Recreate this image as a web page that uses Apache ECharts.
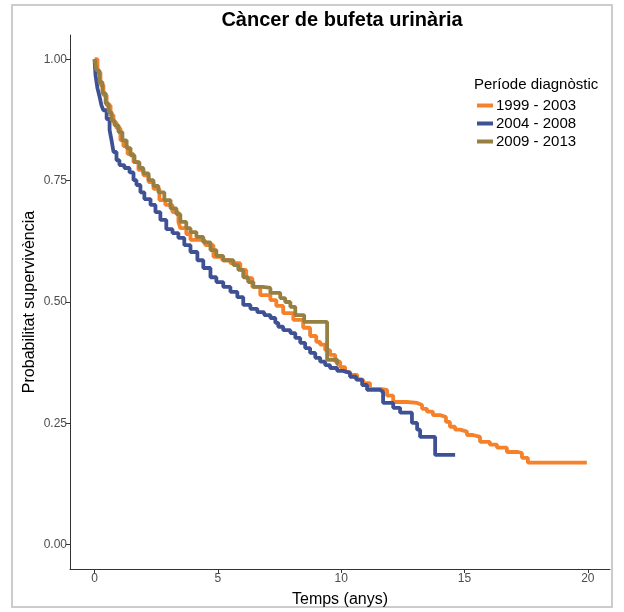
<!DOCTYPE html>
<html>
<head>
<meta charset="utf-8">
<script src="https://cdn.jsdelivr.net/npm/echarts@6/dist/echarts.min.js"></script>
<style>
  html, body { margin: 0; padding: 0; background: #fff; }
  #chart { width: 624px; height: 612px; }
</style>
</head>
<body>
<div id="chart"></div>
<script>
// Kaplan-Meier survival by diagnosis period: [years, survival probability]
const periods = ['1999 - 2003', '2004 - 2008', '2009 - 2013'];
const periodColors = ['#F5822B', '#3F5195', '#967F42'];

const surv1999 = [
  [0, 1.0], [0.12, 0.973], [0.24, 0.947], [0.36, 0.926], [0.49, 0.905], [0.65, 0.885],
  [0.77, 0.870], [0.89, 0.858], [1.05, 0.833], [1.17, 0.821], [1.34, 0.805], [1.58, 0.788],
  [1.78, 0.772], [1.98, 0.761], [2.19, 0.747], [2.39, 0.733], [2.63, 0.710], [2.87, 0.700],
  [3.16, 0.685], [3.40, 0.665], [3.48, 0.652], [3.72, 0.640], [3.89, 0.628], [4.29, 0.626],
  [4.49, 0.617], [4.82, 0.593], [5.18, 0.586], [5.51, 0.580], [5.91, 0.566], [6.15, 0.549],
  [6.40, 0.531], [6.72, 0.514], [7.13, 0.504], [7.37, 0.492], [7.65, 0.477], [8.06, 0.463],
  [8.46, 0.447], [8.74, 0.430], [8.99, 0.418], [9.15, 0.412], [9.35, 0.401], [9.55, 0.391],
  [9.76, 0.377], [9.96, 0.366], [10.16, 0.356], [10.36, 0.350], [10.65, 0.340], [10.89, 0.333],
  [11.17, 0.321], [11.58, 0.319], [11.86, 0.307], [12.11, 0.294], [12.67, 0.292], [13.08, 0.288],
  [13.28, 0.280], [13.48, 0.274], [13.72, 0.267], [14.01, 0.263], [14.25, 0.253], [14.41, 0.243],
  [14.62, 0.237], [14.82, 0.233], [15.10, 0.226], [15.34, 0.222], [15.63, 0.212], [16.03, 0.206],
  [16.32, 0.200], [16.72, 0.191], [17.17, 0.189], [17.33, 0.179], [17.57, 0.169], [19.96, 0.169]
];

const surv2004 = [
  [0, 1.0], [0.04, 0.967], [0.12, 0.940], [0.20, 0.924], [0.28, 0.905], [0.36, 0.895],
  [0.49, 0.877], [0.61, 0.854], [0.69, 0.833], [0.77, 0.809], [0.89, 0.792], [1.01, 0.782],
  [1.21, 0.776], [1.42, 0.767], [1.58, 0.751], [1.70, 0.741], [1.86, 0.726], [2.02, 0.712],
  [2.27, 0.700], [2.47, 0.685], [2.67, 0.669], [2.91, 0.650], [3.16, 0.642], [3.40, 0.632],
  [3.64, 0.617], [3.89, 0.603], [4.17, 0.586], [4.41, 0.570], [4.70, 0.551], [4.94, 0.541],
  [5.22, 0.531], [5.51, 0.521], [5.79, 0.510], [6.03, 0.494], [6.32, 0.486], [6.60, 0.479],
  [6.88, 0.473], [7.13, 0.467], [7.33, 0.457], [7.45, 0.449], [7.65, 0.442], [7.94, 0.436],
  [8.14, 0.426], [8.34, 0.416], [8.54, 0.405], [8.74, 0.395], [8.95, 0.385], [9.15, 0.377],
  [9.35, 0.370], [9.55, 0.364], [9.84, 0.358], [10.08, 0.354], [10.36, 0.346], [10.61, 0.340],
  [10.85, 0.329], [11.05, 0.319], [11.58, 0.315], [11.70, 0.292], [12.11, 0.282], [12.39, 0.272],
  [12.87, 0.251], [13.08, 0.237], [13.20, 0.222], [13.81, 0.185], [14.62, 0.185]
];

const surv2009 = [
  [0, 1.0], [0.08, 0.977], [0.20, 0.953], [0.32, 0.930], [0.45, 0.909], [0.57, 0.891],
  [0.69, 0.874], [0.81, 0.864], [0.97, 0.850], [1.13, 0.833], [1.30, 0.817], [1.46, 0.802],
  [1.62, 0.788], [1.82, 0.776], [1.98, 0.765], [2.19, 0.751], [2.39, 0.739], [2.59, 0.726],
  [2.83, 0.710], [3.08, 0.693], [3.32, 0.681], [3.48, 0.665], [3.72, 0.652], [3.89, 0.644],
  [4.13, 0.634], [4.41, 0.623], [4.70, 0.607], [4.94, 0.595], [5.22, 0.586], [5.63, 0.576],
  [5.83, 0.566], [6.03, 0.551], [6.23, 0.541], [6.44, 0.531], [6.80, 0.529], [7.13, 0.519],
  [7.53, 0.508], [7.73, 0.500], [7.94, 0.490], [8.14, 0.473], [8.50, 0.459], [9.43, 0.381],
  [9.84, 0.372], [9.88, 0.372]
];

const xTicks = [0, 5, 10, 15, 20];
const yTicks = [0, 0.25, 0.5, 0.75, 1.0];

const chart = echarts.init(document.getElementById('chart'), null, { renderer: 'canvas' });
const FONT = '"Liberation Sans", Arial, sans-serif';
const seriesData = [surv1999, surv2004, surv2009];

chart.setOption({
  animation: false,
  backgroundColor: '#ffffff',
  grid: { left: 70, right: 14, top: 35, bottom: 43, containLabel: false, outerBoundsMode: 'none' },
  graphic: [
    {
      type: 'rect', silent: true,
      shape: { x: 12, y: 5, width: 600, height: 602 },
      style: { fill: 'none', stroke: '#CCCCCC', lineWidth: 2 }
    },
    {
      type: 'text', x: 342, y: 20,
      style: {
        text: 'Càncer de bufeta urinària', fontFamily: FONT, fontSize: 20, fontWeight: 'bold',
        fill: '#000', textAlign: 'center', textVerticalAlign: 'middle'
      }
    },
    {
      type: 'text', x: 474, y: 85,
      style: {
        text: 'Període diagnòstic', fontFamily: FONT, fontSize: 15,
        fill: '#000', textAlign: 'left', textVerticalAlign: 'middle'
      }
    }
  ],
  legend: {
    orient: 'vertical', left: 472, top: 93,
    itemWidth: 16, itemHeight: 4, itemGap: 3,
    icon: 'rect',
    textStyle: { fontFamily: FONT, fontSize: 15, color: '#000', padding: [0, 0, 0, -2] },
    data: periods
  },
  xAxis: {
    type: 'value', min: -0.995, max: 20.9,
    name: 'Temps (anys)', nameLocation: 'middle', nameGap: 23, nameMoveOverlap: false,
    nameTextStyle: { fontFamily: FONT, fontSize: 16, color: '#000' },
    axisLine: { show: true, onZero: false, lineStyle: { color: '#333', width: 1 } },
    axisTick: { show: true, length: 4, customValues: xTicks, lineStyle: { color: '#333' } },
    axisLabel: { customValues: xTicks, fontFamily: FONT, fontSize: 12, color: '#4D4D4D', margin: 4 },
    splitLine: { show: false }
  },
  yAxis: {
    type: 'value', min: -0.05, max: 1.05,
    name: 'Probabilitat supervivència', nameLocation: 'middle', nameGap: 32, nameMoveOverlap: false,
    nameTextStyle: { fontFamily: FONT, fontSize: 16, color: '#000' },
    axisLine: { show: true, onZero: false, lineStyle: { color: '#333', width: 1 } },
    axisTick: { show: true, length: 4, customValues: yTicks, lineStyle: { color: '#333' } },
    axisLabel: {
      customValues: yTicks, fontFamily: FONT, fontSize: 12, color: '#4D4D4D', margin: 3,
      formatter: v => v.toFixed(2)
    },
    splitLine: { show: false }
  },
  series: periods.map((name, i) => ({
    name,
    type: 'line',
    step: 'end',
    showSymbol: false,
    color: periodColors[i],
    lineStyle: { width: 3.8, color: periodColors[i] },
    data: seriesData[i]
  }))
});
</script>
</body>
</html>
